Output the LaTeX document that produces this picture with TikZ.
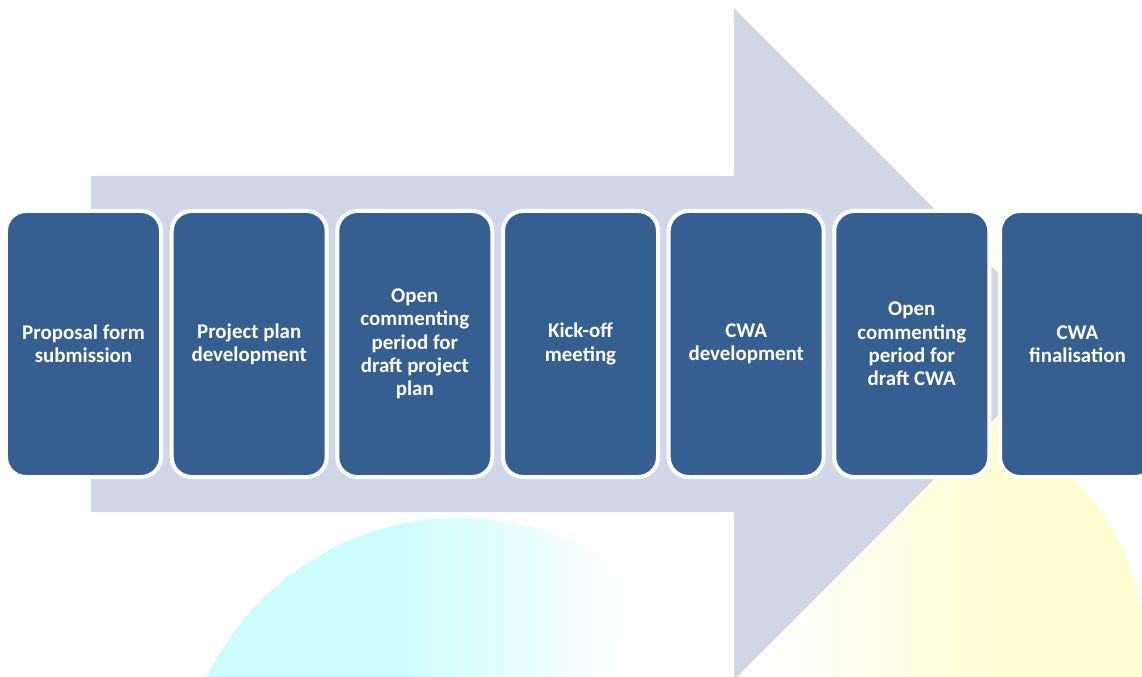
\documentclass[tikz,border=0pt]{standalone}
\usepackage{fontspec}
\setmainfont{Carlito}
\definecolor{cyanbg}{HTML}{CCFCFC}
\definecolor{yelbg}{HTML}{FFFED2}
\definecolor{arrowbg}{HTML}{D0D8E8}
\definecolor{boxblue}{HTML}{365F91}
\pgfdeclarehorizontalshading{cyanfade}{100bp}{color(0bp)=(cyanbg); color(44bp)=(cyanbg); color(65bp)=(white); color(100bp)=(white)}
\pgfdeclarehorizontalshading{yelfade}{100bp}{color(0bp)=(white); color(38bp)=(white); color(62bp)=(yelbg); color(100bp)=(yelbg)}
\tikzset{
  stepbox/.style={draw=white, line width=4bp, fill=boxblue, rounded corners=20bp,
    minimum width=155bp, minimum height=266bp, inner sep=0pt, text=white,
    align=center, font=\bfseries\fontsize{21}{23.4}\selectfont},
}
\begin{document}
\begin{tikzpicture}[x=1bp,y=-1bp]
\useasboundingbox (0,0) rectangle (1142,677);
\clip (0,0) rectangle (1142,677);
\fill[white] (0,0) rectangle (1142,677);
% background circles
\shade[shading=cyanfade] (460,799) circle (281);
\shade[shading=yelfade] (885,660) circle (262);
% big arrow
\fill[arrowbg] (91,176) -- (734,176) -- (734,8) -- (1069,344) -- (734,680) -- (734,512) -- (91,512) -- cycle;
% steps
\node[stepbox] (s1) at (83.5,344) {Proposal form\\submission};
\node[stepbox] (s2) at (249.2,344) {Project plan\\development};
\node[stepbox] (s3) at (414.8,344) {Open\\commenting\\period for\\draft project\\plan};
\node[stepbox] (s4) at (580.5,344) {Kick-off\\meeting};
\node[stepbox] (s5) at (746.2,344) {CWA\\development};
\node[stepbox] (s6) at (911.8,344) {Open\\commenting\\period for\\draft CWA};
\node[stepbox] (s7) at (1077.5,344) {CWA\\finalisation};
\end{tikzpicture}
\end{document}
